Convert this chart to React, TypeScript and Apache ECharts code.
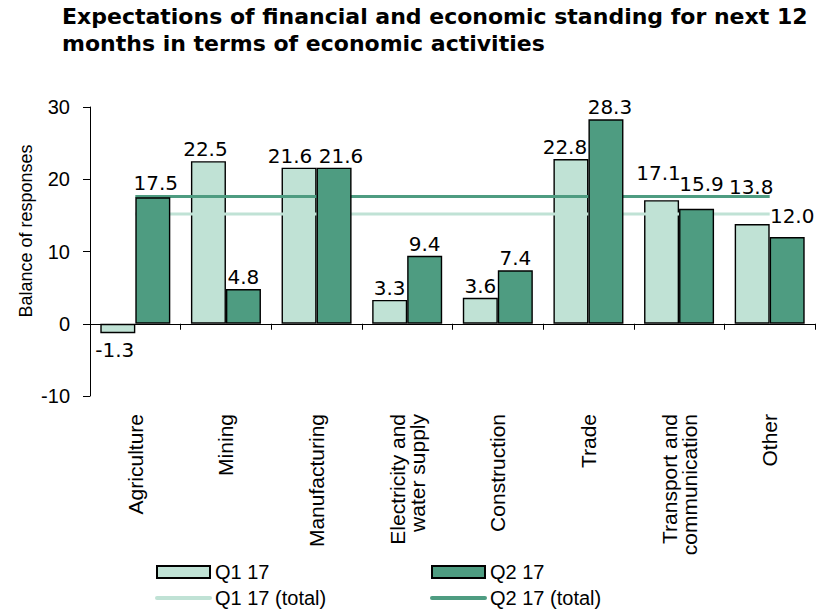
import React, { useEffect, useRef } from "react";
import * as echarts from "echarts";

const categories = [
  "Agriculture",
  "Mining",
  "Manufacturing",
  "Electricity and\nwater supply",
  "Construction",
  "Trade",
  "Transport and\ncommunication",
  "Other",
];
const q1Values = [-1.3, 22.5, 21.6, 3.3, 3.6, 22.8, 17.1, 13.8];
const q2Values = [17.5, 4.8, 21.6, 9.4, 7.4, 28.3, 15.9, 12.0];
const q1Total = 15.2;
const q2Total = 17.6;
const yTicks = { min: -10, max: 30, interval: 10 };

const LIGHT = "#C0E2D5";
const DARK = "#4E9C81";
const FONT = "'Liberation Sans', Arial, sans-serif";
const WIDE = "'DejaVu Sans', sans-serif";

// label nudges [dx, dy] (pixels) to keep labels clear of each other and the total lines
const q1Nudge: Record<number, [number, number]> = {
  0: [-3, 0],
  1: [-3, 0],
  2: [-9, 0],
  5: [-6, 0],
  6: [-3, -15],
  7: [-1, -25],
};
const q2Nudge: Record<number, [number, number]> = {
  0: [3, -2],
  2: [7, 0],
  5: [4, 0],
  6: [5, -13],
  7: [5, -9],
};

export default function App() {
  const ref = useRef<HTMLDivElement>(null);
  useEffect(() => {
    if (!ref.current) return;
    const chart = echarts.init(ref.current, undefined, { renderer: "svg" });
    const fmt = (p: any) => Number(p.value).toFixed(1);
    const mk = (vals: number[], nudge: Record<number, [number, number]>) =>
      vals.map((v, i) => {
        const item: any = { value: v };
        const lab: any = {};
        if (v < 0) {
          lab.position = "bottom";
          lab.distance = 7;
        }
        if (nudge[i]) lab.offset = nudge[i];
        if (Object.keys(lab).length) item.label = lab;
        return item;
      });
    const labelStyle = {
      show: true,
      position: "top",
      distance: 2,
      formatter: fmt,
      color: "#000",
      fontFamily: WIDE,
      fontSize: 20,
    };
    const legendText = { fontFamily: FONT, fontSize: 20, color: "#000", lineHeight: 22 };
    const hideSymbol = { color: "rgba(0,0,0,0)", borderWidth: 0, opacity: 0 };
    const legendLine = { width: 4, cap: "round" };
    chart.setOption({
      animation: false,
      backgroundColor: "#fff",
      title: {
        text: "Expectations of financial and economic standing for next 12\nmonths in terms of economic activities",
        left: 62,
        top: 3,
        padding: 0,
        textStyle: {
          fontFamily: WIDE,
          fontSize: 22,
          fontWeight: "bold",
          color: "#000",
          lineHeight: 27,
        },
      },
      grid: { left: 90, right: 3, top: 107, bottom: 215, containLabel: false },
      legend: [
        {
          left: 155,
          top: 561,
          padding: 0,
          orient: "vertical",
          itemWidth: 53,
          itemHeight: 12,
          itemGap: 4,
          data: [
            { name: "Q1 17", icon: "rect" },
            { name: "Q1 17 (total)", itemStyle: hideSymbol, lineStyle: legendLine },
          ],
          textStyle: legendText,
        },
        {
          left: 430,
          top: 561,
          padding: 0,
          orient: "vertical",
          itemWidth: 53,
          itemHeight: 12,
          itemGap: 4,
          data: [
            { name: "Q2 17", icon: "rect" },
            { name: "Q2 17 (total)", itemStyle: hideSymbol, lineStyle: legendLine },
          ],
          textStyle: legendText,
        },
      ],
      xAxis: {
        type: "category",
        data: categories,
        boundaryGap: true,
        axisLine: { onZero: true, lineStyle: { color: "#000", width: 1 } },
        axisTick: { show: true, length: 6, lineStyle: { color: "#000" } },
        axisLabel: {
          rotate: 90,
          margin: 18,
          interval: 0,
          color: "#000",
          fontFamily: FONT,
          fontSize: 21,
          lineHeight: 20,
        },
      },
      yAxis: {
        type: "value",
        min: yTicks.min,
        max: yTicks.max,
        interval: yTicks.interval,
        axisLine: { show: true, lineStyle: { color: "#000", width: 1 } },
        axisTick: { show: true, length: 7, lineStyle: { color: "#000" } },
        splitLine: { show: false },
        axisLabel: { color: "#000", fontFamily: FONT, fontSize: 20, margin: 20 },
      },
      graphic: [
        {
          type: "text",
          x: 26,
          y: 231,
          rotation: Math.PI / 2,
          style: {
            text: "Balance of responses",
            fontFamily: FONT,
            fontSize: 18,
            fill: "#000",
            align: "center",
            verticalAlign: "middle",
          },
        },
      ],
      series: [
        {
          name: "Q1 17",
          type: "bar",
          z: 2,
          data: mk(q1Values, q1Nudge),
          barWidth: 35,
          barGap: "0%",
          itemStyle: { color: LIGHT, borderColor: "#000", borderWidth: 1.4 },
          label: labelStyle,
        },
        {
          name: "Q2 17",
          type: "bar",
          z: 4,
          data: mk(q2Values, q2Nudge),
          barWidth: 35,
          barGap: "0%",
          itemStyle: { color: DARK, borderColor: "#000", borderWidth: 1.4 },
          label: labelStyle,
        },
        {
          name: "Q1 17 (total)",
          type: "line",
          z: 3,
          symbol: "none",
          data: categories.map(() => q1Total),
          lineStyle: { color: LIGHT, width: 3 },
          itemStyle: { color: LIGHT },
        },
        {
          name: "Q2 17 (total)",
          type: "line",
          z: 3,
          symbol: "none",
          data: categories.map(() => q2Total),
          lineStyle: { color: DARK, width: 3 },
          itemStyle: { color: DARK },
        },
      ],
    });
    return () => chart.dispose();
  }, []);
  return <div ref={ref} style={{ width: 818, height: 611, position: "absolute", left: 0, top: 0 }} />;
}
